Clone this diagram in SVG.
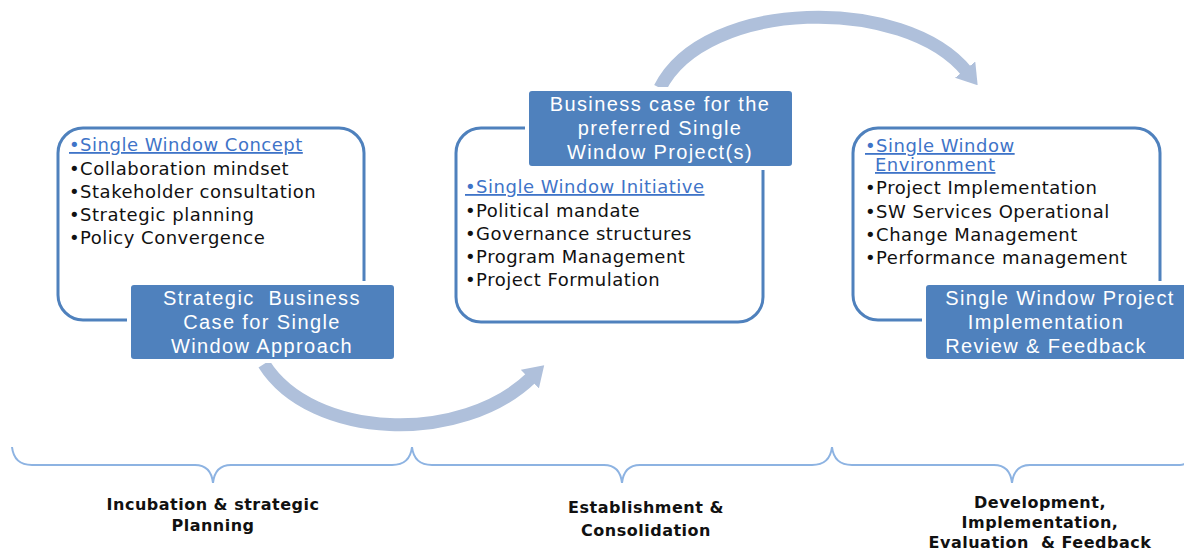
<svg xmlns="http://www.w3.org/2000/svg" width="1184" height="550" viewBox="0 0 1184 550">
<style>
.frame{fill:#fff;stroke:#4F81BD;stroke-width:3}
.lab{fill:#4F81BD;stroke:#fff;stroke-width:4}
.labt{font-family:"Liberation Sans",Arial,sans-serif;font-size:20px;letter-spacing:1.4px;fill:#fff;text-anchor:middle}
.li{font-family:"DejaVu Sans",Verdana,sans-serif;font-size:18px;letter-spacing:0.5px;fill:#111}
.hd{fill:#3F74C8;text-decoration:underline}
.arc{fill:none;stroke:#AFC0DB;stroke-width:13}
.brace{fill:none;stroke:#8DB3E2;stroke-width:2}
.ph{font-family:"DejaVu Sans",Verdana,sans-serif;font-size:16px;letter-spacing:0.5px;font-weight:bold;fill:#111;text-anchor:middle}
</style>
<defs>
<marker id="ah" viewBox="0 0 20 26" refX="3" refY="13" markerWidth="20" markerHeight="26" markerUnits="userSpaceOnUse" orient="auto">
<path d="M0,0 L20,13 L0,26 z" fill="#AFC0DB"/>
</marker>
</defs>
<g id="connectors">
<path class="arc" d="M 264 364 C 312 440, 462 445, 532 377" marker-end="url(#ah)"/>
<path class="arc" d="M 660 88 C 705 -2, 905 -5, 967 72" marker-end="url(#ah)"/>
</g>
<g id="node1">
<rect class="frame" x="58" y="128" width="306" height="192" rx="25"/>
<text class="li" x="69" y="151"><tspan class="hd">•Single Window Concept</tspan></text>
<text class="li" x="69" y="175">•Collaboration mindset</text>
<text class="li" x="69" y="198">•Stakeholder consultation</text>
<text class="li" x="69" y="221">•Strategic planning</text>
<text class="li" x="69" y="244">•Policy Convergence</text>
<rect class="lab" x="129" y="283" width="267" height="78" rx="5"/>
<text class="labt" x="262" y="305" xml:space="preserve">Strategic  Business</text>
<text class="labt" x="262" y="329">Case for Single</text>
<text class="labt" x="262" y="353">Window Approach</text>
</g>
<g id="node2">
<rect class="frame" x="456" y="128" width="307" height="194" rx="25"/>
<text class="li" x="465" y="193"><tspan class="hd">•Single Window Initiative</tspan></text>
<text class="li" x="465" y="217">•Political mandate</text>
<text class="li" x="465" y="240">•Governance structures</text>
<text class="li" x="465" y="263">•Program Management</text>
<text class="li" x="465" y="286">•Project Formulation</text>
<rect class="lab" x="527" y="89" width="267" height="79" rx="5"/>
<text class="labt" x="660" y="111">Business case for the</text>
<text class="labt" x="660" y="135">preferred Single</text>
<text class="labt" x="660" y="159">Window Project(s)</text>
</g>
<g id="node3">
<rect class="frame" x="853" y="128" width="307" height="192" rx="25"/>
<text class="li" x="865" y="152"><tspan class="hd">•Single Window</tspan></text>
<text class="li" x="875" y="171"><tspan class="hd">Environment</tspan></text>
<text class="li" x="865" y="194">•Project Implementation</text>
<text class="li" x="865" y="218">•SW Services Operational</text>
<text class="li" x="865" y="241">•Change Management</text>
<text class="li" x="865" y="264">•Performance management</text>
<rect class="lab" x="924" y="283" width="272" height="78" rx="5"/>
<text class="labt" x="1060" y="305">Single Window Project</text>
<text class="labt" x="1046" y="329">Implementation</text>
<text class="labt" x="1046" y="353">Review &amp; Feedback</text>
</g>
<g id="phase1">
<path class="brace" d="M 12 447 Q 14 465 32 465 L 195 465 Q 211 465 213 483 Q 215 465 231 465 L 392 465 Q 410 465 412 447"/>
<text class="ph" x="213" y="510">Incubation &amp; strategic</text>
<text class="ph" x="213" y="531">Planning</text>
</g>
<g id="phase2">
<path class="brace" d="M 412 447 Q 414 465 432 465 L 604 465 Q 620 465 622 483 Q 624 465 640 465 L 812 465 Q 830 465 832 447"/>
<text class="ph" x="646" y="513">Establishment &amp;</text>
<text class="ph" x="646" y="536">Consolidation</text>
</g>
<g id="phase3">
<path class="brace" d="M 832 447 Q 834 465 852 465 L 994 465 Q 1010 465 1012 483 Q 1014 465 1030 465 L 1180 465 Q 1190 465 1192 447"/>
<text class="ph" x="1040" y="508">Development,</text>
<text class="ph" x="1040" y="528">Implementation,</text>
<text class="ph" x="1040" y="548" xml:space="preserve">Evaluation  &amp; Feedback</text>
</g>
</svg>
